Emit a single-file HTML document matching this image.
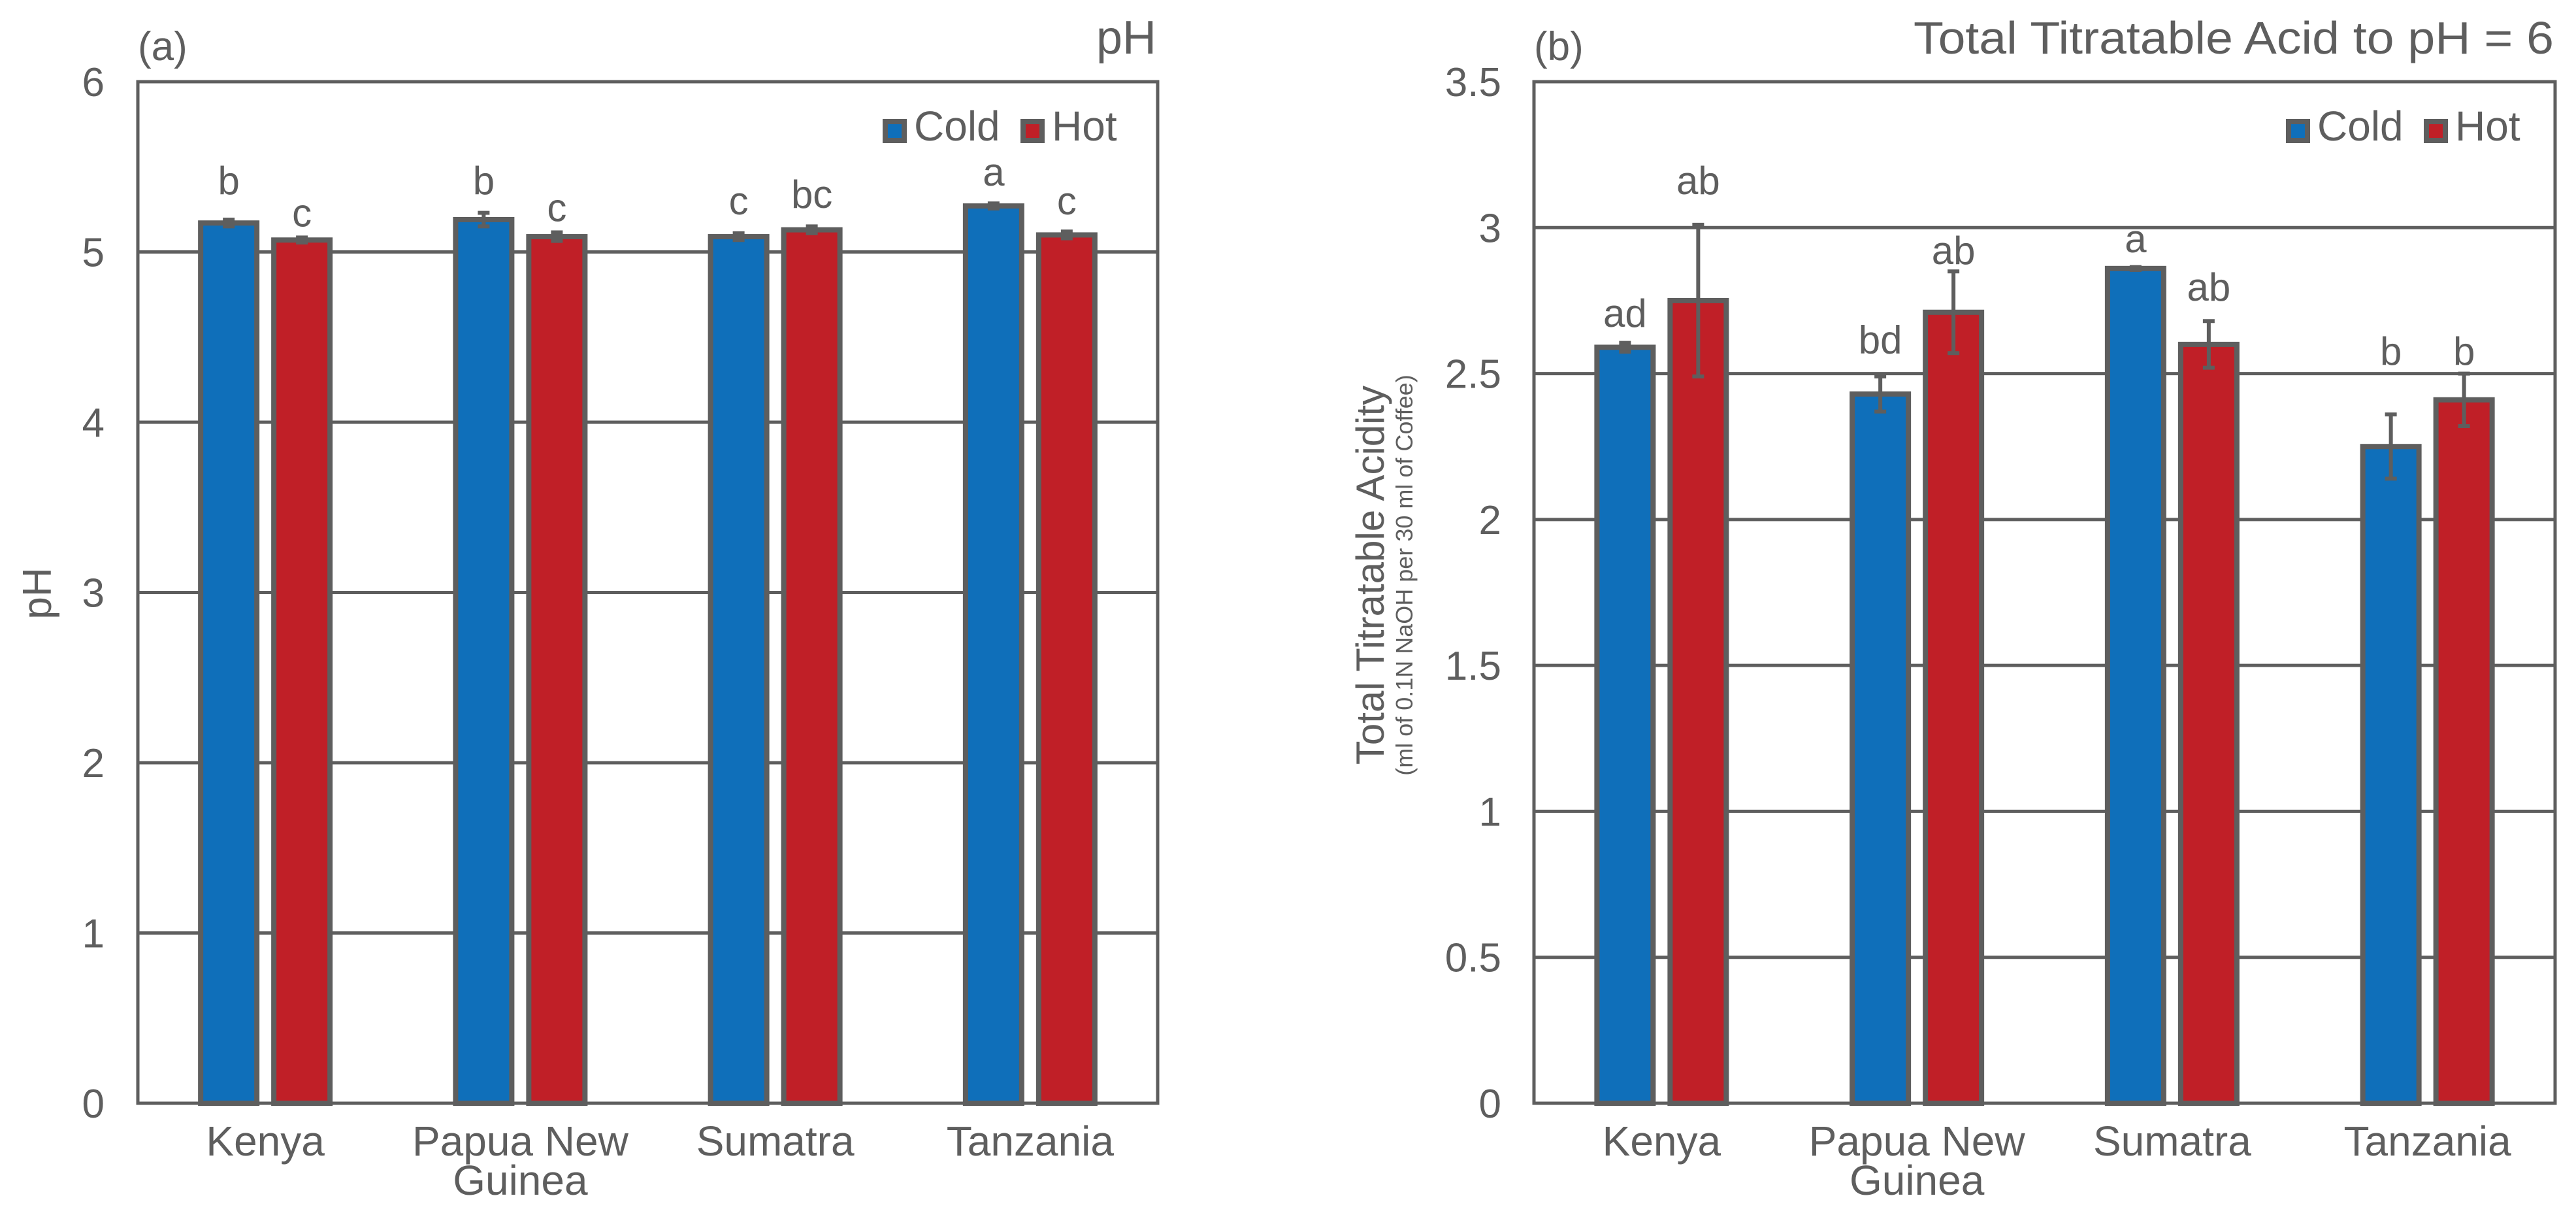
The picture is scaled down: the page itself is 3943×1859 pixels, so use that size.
<!DOCTYPE html>
<html><head><meta charset="utf-8"><style>
html,body{margin:0;padding:0;background:#fff;}
svg{display:block;font-family:"Liberation Sans",Arial,sans-serif;}
</style></head><body>
<svg id="fig" width="3943" height="1859" viewBox="0 0 3943 1859" xmlns="http://www.w3.org/2000/svg"></svg>
<script>
const categories = ["Kenya", "Papua New|Guinea", "Sumatra", "Tanzania"];
const phCold = [5.17, 5.19, 5.09, 5.27];
const phHot = [5.07, 5.09, 5.13, 5.10];
const phColdErr = [0.02, 0.04, 0.02, 0.015];
const phHotErr = [0.015, 0.025, 0.02, 0.02];
const phColdLetters = ["b", "b", "c", "a"];
const phHotLetters = ["c", "c", "bc", "c"];
const phColdLabelPos = [5.34, 5.34, 5.22, 5.39];
const phHotLabelPos = [5.15, 5.18, 5.26, 5.22];
const phTicks = ["0", "1", "2", "3", "4", "5", "6"];

const taCold = [2.59, 2.43, 2.86, 2.25];
const taHot = [2.75, 2.71, 2.60, 2.41];
const taColdErr = [0.015, 0.06, 0.005, 0.11];
const taHotErr = [0.26, 0.14, 0.08, 0.09];
const taColdLetters = ["ad", "bd", "a", "b"];
const taHotLetters = ["ab", "ab", "ab", "b"];
const taColdLabelPos = [2.66, 2.57, 2.915, 2.53];
const taHotLabelPos = [3.115, 2.875, 2.75, 2.53];
const taTicks = ["0", "0.5", "1", "1.5", "2", "2.5", "3", "3.5"];

const NS = "http://www.w3.org/2000/svg";
const svg = document.getElementById("fig");
function mk(tag, attrs, parent) {
  const e = document.createElementNS(NS, tag);
  for (const k in attrs) e.setAttribute(k, attrs[k]);
  (parent || svg).appendChild(e);
  return e;
}
const GRAY = "#5e5e5e", BLUE = "#0f6fba", RED = "#c01f27";

function drawChart(cfg) {
  const g = mk("g", {});
  
  
  const L = cfg.left, R = cfg.right, T = 125, B = 1688;
  const y = v => B - (v / cfg.max) * (B - T);
  const cw = (R - L) / categories.length;
  const x = i => L + cw * (i + 0.5);
  cfg.ticks.forEach(t => {
    const v = parseFloat(t);
    if (v > 0 && v < cfg.max) {
      const gl = mk("line", {x1: L, x2: R, y1: y(v), y2: y(v), stroke: GRAY, "stroke-width": 5}, g);
      
      
    }
    const tl = mk("text", {x: cfg.tickX, y: y(v) + 22, "text-anchor": "end", "font-size": 62, fill: GRAY}, g);
    tl.textContent = t;
    
    
  });
  const frame = mk("rect", {x: L, y: T, width: R - L, height: B - T, fill: "none", stroke: GRAY, "stroke-width": 5}, g);
  
  
  const bw = 86, off = 56;
  const series = [
    {vals: cfg.cold, err: cfg.coldErr, let: cfg.coldLet, lp: cfg.coldLp, col: BLUE, dx: -off, nm: "cold"},
    {vals: cfg.hot, err: cfg.hotErr, let: cfg.hotLet, lp: cfg.hotLp, col: RED, dx: off, nm: "hot"}
  ];
  series.forEach(s => {
    s.vals.forEach((v, i) => {
      const cx = x(i) + s.dx;
      const b = mk("rect", {x: cx - bw / 2, y: y(v), width: bw, height: B - y(v), fill: s.col, stroke: GRAY, "stroke-width": 8}, g);
      
      
      const e = s.err[i];
      const el = mk("path", {d: `M${cx},${y(v + e)}V${y(v - e)}M${cx - 9},${y(v + e)}H${cx + 9}M${cx - 9},${y(v - e)}H${cx + 9}`, stroke: GRAY, "stroke-width": 6, fill: "none"}, g);
      
      
      const lt = mk("text", {x: cx, y: y(s.lp[i]), "text-anchor": "middle", "font-size": 60, fill: GRAY}, g);
      lt.textContent = s.let[i];
      
      
    });
  });
  categories.forEach((c, i) => {
    const parts = c.split("|");
    parts.forEach((p, k) => {
      const t = mk("text", {x: x(i), y: 1768 + k * 60, "text-anchor": "middle", "font-size": 64, fill: GRAY}, g);
      t.textContent = p;
      
      
    });
  });
  const lg = mk("g", {}, g);
  
  
  const lx = R - cfg.legOff;
  [[BLUE, "Cold", 0], [RED, "Hot", 211]].forEach(([col, lab, dx]) => {
    const sq = mk("rect", {x: lx + dx + 4, y: 186, width: 29, height: 29, fill: col, stroke: GRAY, "stroke-width": 8}, lg);
    
    
    const tt = mk("text", {x: lx + dx + 48, y: 215, "font-size": 64, fill: GRAY}, lg);
    tt.textContent = lab;
    
    
  });
  const pl = mk("text", {x: L, y: 92, "font-size": 62, fill: GRAY}, g);
  pl.textContent = cfg.panel;
  
  
  const ti = mk("text", {x: R - 2, y: 82, "text-anchor": "end", "font-size": cfg.titleSize, fill: GRAY}, g);
  ti.textContent = cfg.title;
  if (cfg.titleLen) { ti.setAttribute("textLength", cfg.titleLen); ti.setAttribute("lengthAdjust", "spacingAndGlyphs"); }
  
  
  return g;
}

drawChart({name: "ph-chart", left: 211, right: 1772, max: 6, ticks: phTicks, tickX: 160,
  cold: phCold, hot: phHot, coldErr: phColdErr, hotErr: phHotErr,
  coldLet: phColdLetters, hotLet: phHotLetters, coldLp: phColdLabelPos, hotLp: phHotLabelPos,
  legOff: 421, panel: "(a)", title: "pH", titleSize: 72});
drawChart({name: "titratable-acid-chart", left: 2348, right: 3911, max: 3.5, ticks: taTicks, tickX: 2298,
  cold: taCold, hot: taHot, coldErr: taColdErr, hotErr: taHotErr,
  coldLet: taColdLetters, hotLet: taHotLetters, coldLp: taColdLabelPos, hotLp: taHotLabelPos,
  legOff: 412, panel: "(b)", title: "Total Titratable Acid to pH = 6", titleSize: 70, titleLen: 980});

const yt1 = mk("text", {x: 0, y: 0, transform: "translate(78,908) rotate(-90)", "text-anchor": "middle", "font-size": 62, fill: GRAY});
yt1.textContent = "pH";


const yt2 = mk("text", {x: 0, y: 0, transform: "translate(2118,880) rotate(-90)", "text-anchor": "middle", "font-size": 60, fill: GRAY});
yt2.textContent = "Total Titratable Acidity";


const yt3 = mk("text", {x: 0, y: 0, transform: "translate(2162,880) rotate(-90)", "text-anchor": "middle", "font-size": 36, fill: GRAY});
yt3.textContent = "(ml of 0.1N NaOH per 30 ml of Coffee)";


</script>
</body></html>
